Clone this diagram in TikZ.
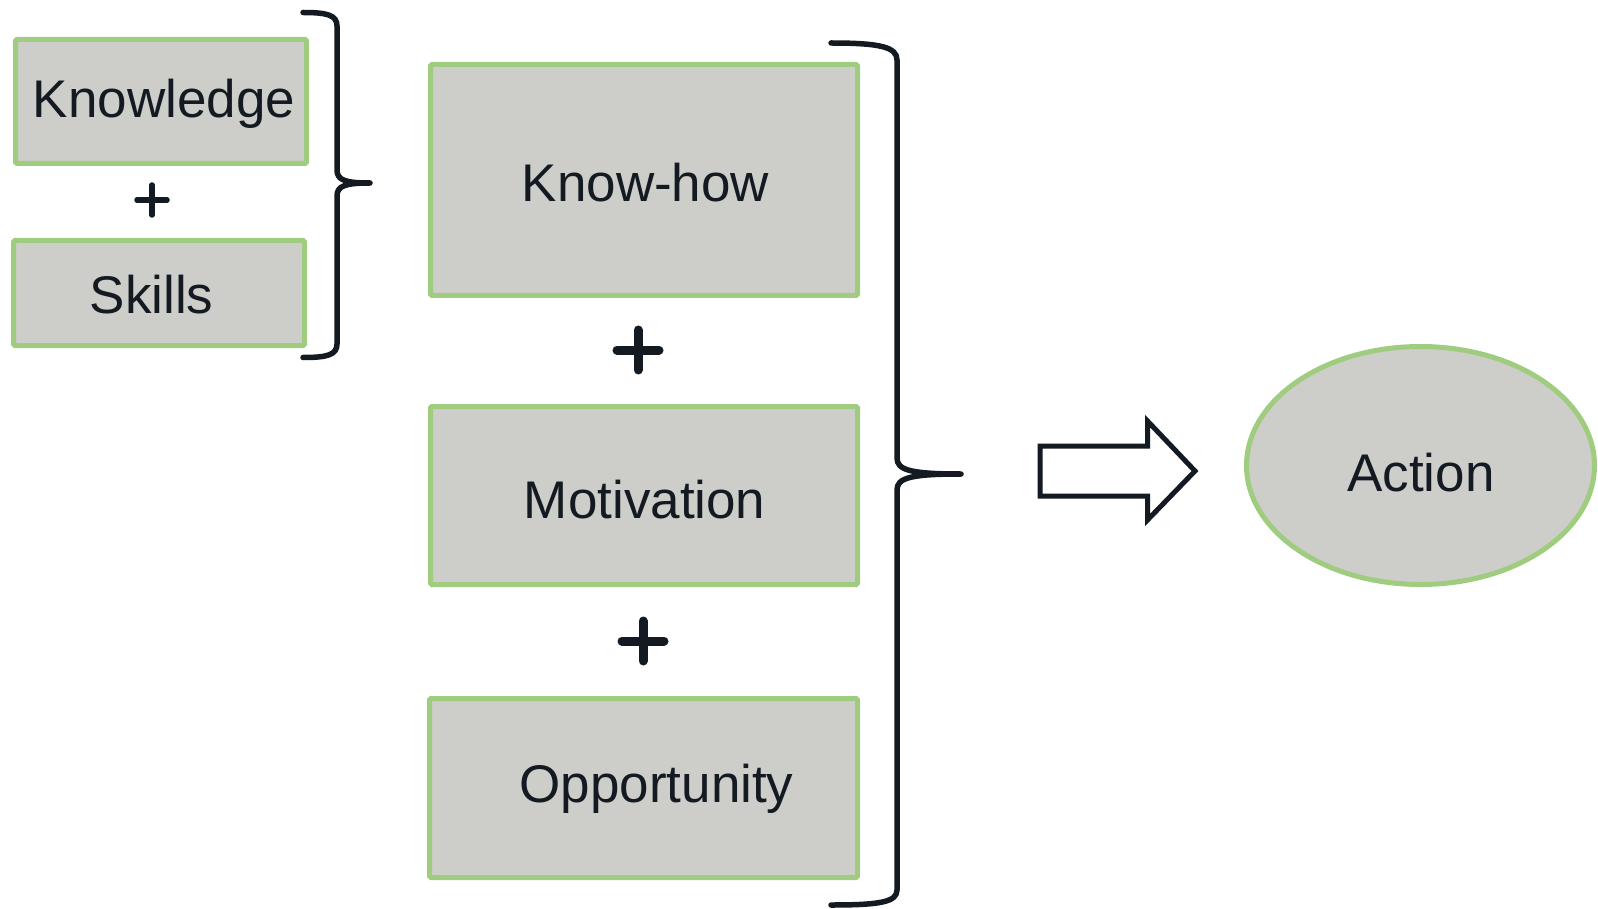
\documentclass[tikz,border=0pt]{standalone}
\usepackage{fontspec}
\setmainfont{Liberation Sans}
\usetikzlibrary{shapes.geometric}
\definecolor{boxfill}{HTML}{CDCDC9}
\definecolor{boxedge}{HTML}{9FCC7E}
\definecolor{ink}{HTML}{131A21}
\begin{document}
\begin{tikzpicture}[x=1pt,y=-1pt,
  box/.style={draw=boxedge,fill=boxfill,line width=5pt,rounded corners=1.5pt,
    inner sep=0pt,outer sep=0pt},
  oval/.style={ellipse,draw=boxedge,fill=boxfill,line width=5pt,inner sep=0pt,outer sep=0pt},
  lbl/.style={anchor=base,inner sep=0pt,text=ink,font=\fontsize{53}{60}\selectfont},
  brace/.style={draw=ink,line width=5.5pt,line cap=round,line join=round},
  plus/.style={draw=ink,line cap=round},
  bigarrow/.style={draw=ink,line width=5pt,fill=white,line join=miter}]
\useasboundingbox (0,0) rectangle (1598,909);

% input boxes
\node[box,minimum width=291pt,minimum height=124pt] (knowledge) at (161,101.5) {};
\node[box,minimum width=291pt,minimum height=105pt] (skills) at (159,293) {};
\node[box,minimum width=427pt,minimum height=231pt] (knowhow) at (644,180) {};
\node[box,minimum width=427pt,minimum height=178pt] (motivation) at (644,495.5) {};
\node[box,minimum width=428pt,minimum height=179pt] (opportunity) at (643.5,788) {};
\node[oval,minimum width=348pt,minimum height=238pt] (action) at (1420.5,465.5) {};

% labels
\node[lbl] (tknowledge) at (164,118) {Knowledge};
\node[lbl] (tskills) at (151.5,313) {Skills};
\node[lbl] (tknowhow) at (645.5,202) {Know-how};
\node[lbl] (tmotivation) at (644.7,518) {Motivation};
\node[lbl] (topportunity) at (656.5,802) {Opportunity};
\node[lbl] (taction) at (1421,491) {Action};

% plus signs
\coordinate (p1) at (152,200);
\coordinate (p2) at (638,350);
\coordinate (p3) at (643,641);
\draw[plus,line width=5.5pt] ([xshift=-15pt]p1) -- ([xshift=15pt]p1) ([yshift=-15pt]p1) -- ([yshift=15pt]p1);
\draw[plus,line width=9pt] ([xshift=-21pt]p2) -- ([xshift=21pt]p2) ([yshift=-20pt]p2) -- ([yshift=20pt]p2);
\draw[plus,line width=9pt] ([xshift=-21pt]p3) -- ([xshift=21pt]p3) ([yshift=-20pt]p3) -- ([yshift=20pt]p3);

% small brace
\draw[brace] (303,12.5) .. controls (327,12.5) and (337,15) .. (337,26)
  -- (337,170) .. controls (337,180) and (345,183) .. (370,183)
  .. controls (345,183) and (337,186) .. (337,196)
  -- (337,344) .. controls (337,355) and (327,357.5) .. (303,357.5);

% large brace
\draw[brace] (831,43) .. controls (880,43) and (897,47) .. (897,60)
  -- (897,458) .. controls (897,470) and (910,474) .. (961,474)
  .. controls (910,474) and (897,478) .. (897,490)
  -- (897,890) .. controls (897,902) and (880,905) .. (831,905);

% block arrow
\draw[bigarrow] (1040,446) -- (1147.5,446) -- (1147.5,421) -- (1195,471)
  -- (1147.5,520) -- (1147.5,496) -- (1040,496) -- cycle;
\end{tikzpicture}
\end{document}
